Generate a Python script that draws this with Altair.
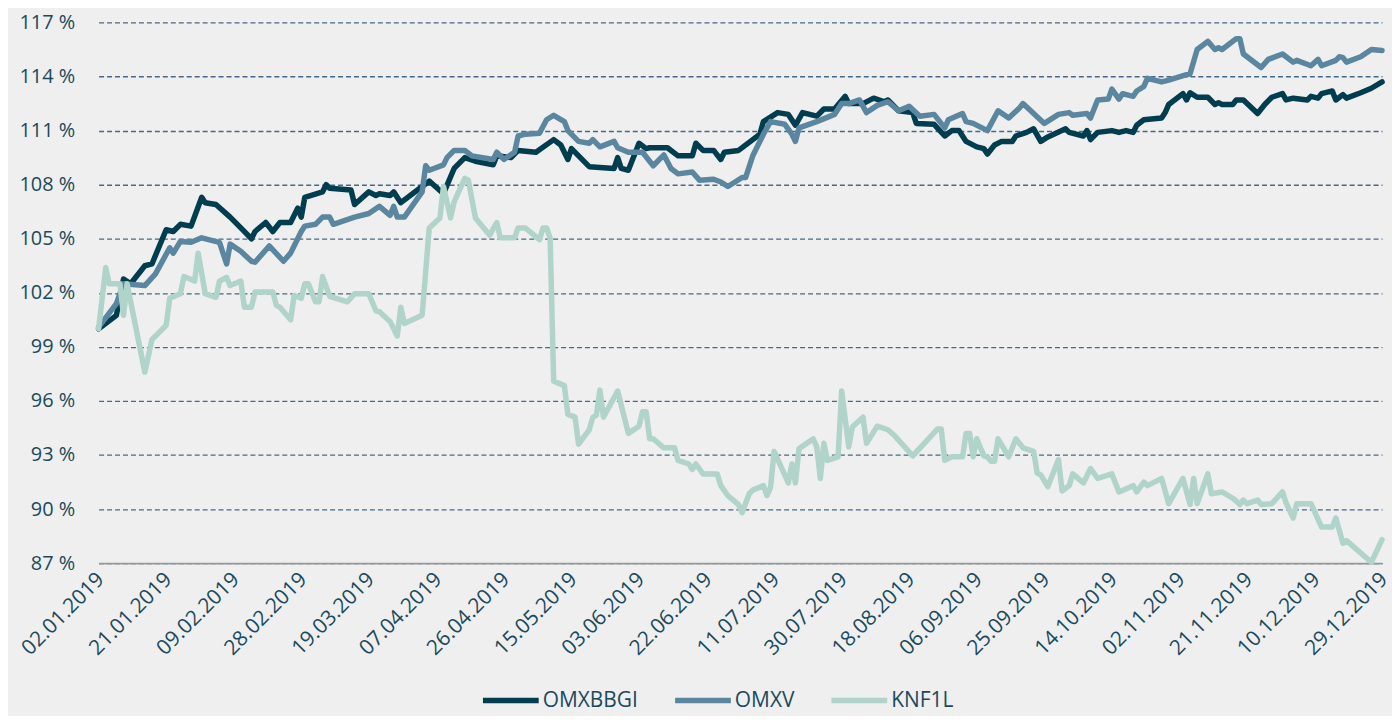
import altair as alt
import pandas as pd

# Day offsets from 02.01.2019 and index values (%)
omxbbgi_days = [0, 5, 7, 9, 13, 15, 19, 21, 23, 26, 29, 30, 33, 37, 40, 43, 44, 47, 49, 51, 54, 56, 57, 58,
                63, 64, 65, 71, 72, 76, 78, 79, 82, 83, 85, 91, 93, 97, 100, 103, 106, 111, 112, 116, 118,
                123, 128, 130, 132, 133, 138, 145, 146, 147, 149, 152, 154, 155, 160, 163, 167, 168, 170,
                173, 175, 176, 180, 184, 186, 187, 191, 194, 196, 198, 202, 204, 207, 210, 211, 215, 218,
                221, 222, 225, 229, 230, 235, 238, 240, 242, 244, 247, 249, 250, 252, 254, 257, 258, 261,
                263, 265, 267, 272, 273, 277, 278, 279, 281, 285, 287, 289, 291, 292, 294, 299, 300, 301,
                305, 306, 307, 309, 312, 314, 315, 316, 319, 320, 322, 326, 328, 330, 333, 334, 336, 340,
                341, 343, 344, 347, 348, 350, 351, 355, 358, 361]
omxbbgi_vals = [100.0, 100.75, 102.77, 102.5, 103.5, 103.6, 105.5, 105.4, 105.8, 105.7, 107.3, 107.0, 106.9,
                106.2, 105.6, 105.0, 105.4, 105.9, 105.4, 105.9, 105.9, 106.7, 106.2, 107.3, 107.6, 108.0,
                107.8, 107.7, 106.9, 107.6, 107.4, 107.5, 107.4, 107.6, 107.0, 107.9, 108.2, 107.5, 108.9,
                109.5, 109.3, 109.1, 109.6, 109.5, 109.9, 109.8, 110.5, 110.2, 109.4, 110.0, 109.0, 108.9,
                109.5, 108.9, 108.8, 110.3, 110.0, 110.05, 110.05, 109.6, 109.6, 110.3, 109.9, 109.9, 109.4,
                109.8, 109.9, 110.5, 110.8, 111.5, 112.0, 111.9, 111.3, 112.0, 111.8, 112.2, 112.2, 112.9,
                112.5, 112.5, 112.8, 112.6, 112.7, 112.1, 112.0, 111.4, 111.35, 110.7, 111.0, 111.0, 110.4,
                110.1, 110.0, 109.7, 110.2, 110.4, 110.4, 110.7, 110.9, 111.1, 110.4, 110.65, 111.1, 110.9,
                110.7, 111.0, 110.5, 110.9, 111.0, 110.9, 111.0, 110.9, 111.3, 111.6, 111.7, 112.0, 112.45,
                113.05, 112.7, 113.1, 112.85, 112.85, 112.45, 112.55, 112.45, 112.45, 112.7, 112.7, 111.95,
                112.45, 112.85, 113.05, 112.7, 112.8, 112.7, 112.9, 112.8, 113.05, 113.2, 112.7, 113.0,
                112.8, 113.1, 113.35, 113.7]

omxv_days = [0, 5, 7, 13, 16, 20, 21, 23, 26, 29, 34, 36, 37, 40, 43, 44, 48, 52, 54, 57, 58, 61, 63, 65,
             66, 72, 76, 79, 82, 83, 84, 86, 91, 92, 93, 97, 98, 100, 103, 105, 111, 112, 114, 117, 118,
             120, 124, 126, 128, 131, 132, 135, 138, 139, 141, 145, 146, 149, 153, 156, 159, 161, 163,
             167, 169, 173, 175, 177, 181, 182, 184, 187, 189, 193, 195, 196, 197, 202, 207, 209, 211,
             214, 216, 219, 222, 225, 228, 231, 235, 238, 239, 243, 244, 246, 250, 253, 256, 259, 260,
             266, 270, 273, 274, 278, 279, 281, 284, 285, 287, 288, 291, 292, 294, 295, 299, 301, 306,
             307, 309, 312, 314, 315, 316, 320, 321, 322, 327, 329, 333, 336, 337, 341, 343, 344, 348,
             349, 350, 351, 355, 358, 361]
omxv_vals = [100.1, 101.4, 102.5, 102.4, 103.05, 104.5, 104.2, 104.85, 104.8, 105.05, 104.8, 103.6, 104.7,
             104.3, 103.75, 103.7, 104.6, 103.75, 104.2, 105.4, 105.7, 105.8, 106.2, 106.2, 105.8, 106.2,
             106.4, 106.8, 106.3, 106.8, 106.2, 106.2, 107.6, 109.05, 108.8, 109.1, 109.5, 109.9, 109.9,
             109.6, 109.4, 109.8, 109.4, 109.8, 110.7, 110.8, 110.85, 111.6, 111.85, 111.5, 111.0, 110.4,
             110.3, 110.5, 110.1, 110.4, 110.05, 109.8, 109.8, 109.05, 109.65, 108.9, 108.6, 108.7, 108.25,
             108.3, 108.15, 107.9, 108.4, 108.4, 109.6, 110.8, 111.5, 111.35, 110.8, 110.4, 111.15, 111.5,
             111.9, 112.5, 112.5, 112.7, 112.0, 112.4, 112.6, 112.1, 112.35, 111.8, 111.9, 111.15, 111.6,
             111.95, 111.5, 111.4, 111.0, 112.1, 111.7, 112.25, 112.5, 111.4, 111.9, 112.0, 111.85, 111.95,
             111.7, 112.7, 112.75, 113.3, 112.75, 113.05, 112.9, 113.2, 113.45, 113.9, 113.7, 113.8, 114.1,
             114.15, 115.5, 115.95, 115.5, 115.6, 115.5, 116.1, 116.1, 115.25, 114.5, 114.95, 115.25, 114.8,
             114.9, 114.6, 114.95, 114.6, 114.9, 115.1, 115.05, 114.8, 115.1, 115.5, 115.45]

knf1l_days = [0, 2, 3, 6, 7, 8, 13, 15, 19, 20, 23, 24, 27, 28, 30, 33, 34, 36, 37, 40, 41, 43, 44, 49, 50,
              51, 54, 55, 57, 58, 59, 61, 62, 63, 65, 70, 72, 76, 78, 79, 82, 84, 85, 86, 91, 93, 96, 97,
              99, 100, 103, 104, 106, 110, 112, 113, 117, 118, 120, 124, 125, 126, 127, 128, 131, 132, 134,
              135, 138, 139, 140, 141, 142, 146, 149, 152, 153, 154, 155, 156, 159, 162, 163, 166, 167, 168,
              170, 174, 175, 177, 180, 181, 183, 184, 187, 188, 189, 190, 194, 195, 196, 197, 201, 202, 203,
              204, 205, 208, 209, 211, 212, 215, 216, 219, 222, 224, 229, 236, 237, 238, 240, 243, 244, 245,
              246, 247, 249, 250, 251, 252, 253, 256, 258, 260, 263, 264, 265, 267, 270, 271, 273, 274, 277,
              279, 281, 285, 287, 291, 292, 294, 295, 299, 301, 305, 307, 308, 309, 312, 313, 316, 319, 320,
              321, 322, 323, 326, 327, 330, 333, 334, 336, 337, 341, 344, 347, 348, 350, 351, 358, 361]
knf1l_vals = [100.0, 103.4, 102.5, 102.5, 100.75, 102.5, 97.6, 99.4, 100.2, 101.7, 101.95, 102.9, 102.65,
              104.2, 101.95, 101.75, 102.65, 102.85, 102.4, 102.65, 101.2, 101.2, 102.05, 102.05, 101.3,
              101.2, 100.5, 101.85, 101.7, 102.5, 102.5, 101.5, 101.5, 102.9, 101.8, 101.5, 101.95, 101.95,
              101.0, 100.95, 100.4, 99.6, 101.2, 100.3, 100.75, 105.6, 106.15, 107.9, 106.15, 107.05,
              108.35, 108.25, 106.15, 105.2, 105.9, 105.05, 105.05, 105.6, 105.6, 104.95, 105.6, 105.6,
              105.05, 97.1, 96.85, 95.25, 95.1, 93.6, 94.4, 95.1, 95.2, 96.6, 95.1, 96.55, 94.2, 94.6, 95.4,
              95.4, 93.9, 93.9, 93.4, 93.4, 92.7, 92.5, 92.2, 92.5, 91.95, 91.95, 91.3, 90.75, 90.25, 89.8,
              90.85, 91.05, 91.3, 90.75, 91.2, 93.2, 91.45, 92.5, 91.45, 93.35, 93.9, 93.45, 91.7, 93.65,
              92.7, 92.9, 96.55, 93.45, 94.55, 95.1, 93.65, 94.6, 94.4, 94.05, 92.95, 94.45, 94.45, 92.7,
              92.9, 92.9, 94.2, 94.2, 92.9, 93.9, 92.95, 92.9, 92.65, 92.65, 93.9, 92.9, 93.9, 93.4, 93.2,
              92.0, 91.9, 91.25, 92.75, 91.0, 91.3, 91.95, 91.45, 92.25, 91.7, 91.95, 90.95, 91.3, 90.95,
              91.5, 91.3, 91.7, 90.3, 91.7, 90.25, 91.7, 90.3, 91.95, 90.85, 90.95, 90.6, 90.45, 90.25,
              90.5, 90.3, 90.5, 90.25, 90.3, 90.95, 90.35, 89.5, 90.3, 90.3, 89.0, 89.0, 89.5, 88.1, 88.25,
              87.05, 88.3]

series_names = ["OMXBBGI", "OMXV", "KNF1L"]
series_colors = ["#003d4f", "#5b86a0", "#b0d3ca"]

tick_days = list(range(0, 362, 19))

base = pd.Timestamp("2019-01-02")
rows = []
for name, days, vals in [("OMXBBGI", omxbbgi_days, omxbbgi_vals),
                         ("OMXV", omxv_days, omxv_vals),
                         ("KNF1L", knf1l_days, knf1l_vals)]:
    for d, v in zip(days, vals):
        rows.append({"date": (base + pd.Timedelta(days=d)).strftime("%Y-%m-%d"),
                     "value": v, "series": name})
df = pd.DataFrame(rows)

tick_values = [alt.DateTime(year=(base + pd.Timedelta(days=d)).year,
                            month=(base + pd.Timedelta(days=d)).month,
                            date=(base + pd.Timedelta(days=d)).day, utc=True) for d in tick_days]

txt = "#1b4a5c"

chart = alt.Chart(df).mark_line(strokeWidth=5.5, strokeJoin="round", strokeCap="round").encode(
    x=alt.X("date:T",
            scale=alt.Scale(type="utc",
                            domain=[alt.DateTime(year=2019, month=1, date=2, utc=True),
                                    alt.DateTime(year=2019, month=12, date=29, utc=True)]),
            axis=alt.Axis(title=None, values=tick_values, labelExpr="utcFormat(datum.value, '%d.%m.%Y')",
                          labelAngle=-45, labelAlign="right", labelBaseline="middle", labelPadding=13,
                          labelOffset=2,
                          ticks=False, grid=False, domainColor="#999999", domainWidth=2,
                          labelFontSize=21, labelColor=txt, labelFont="Open Sans",
                          labelOverlap=False, labelBound=False, labelFlush=False)),
    y=alt.Y("value:Q",
            scale=alt.Scale(domain=[87, 117], nice=False, zero=False),
            axis=alt.Axis(title=None, values=list(range(87, 118, 3)), labelExpr="datum.value + ' %'",
                          ticks=False, domain=False, grid=True, gridColor="#46688a",
                          gridDash=[5, 3], gridWidth=1.3, labelPadding=24,
                          labelFontSize=20, labelColor=txt, labelFont="Open Sans")),
    color=alt.Color("series:N",
                    scale=alt.Scale(domain=series_names, range=series_colors),
                    sort=series_names,
                    legend=alt.Legend(title=None, orient="none", direction="horizontal",
                                      legendX=383, legendY=650, symbolType="stroke",
                                      symbolSize=3136, symbolStrokeWidth=5.5, labelFontSize=21,
                                      labelColor=txt, labelFont="Open Sans", labelOffset=1,
                                      columnPadding=26)),
).properties(
    width=1289, height=543,
    autosize=alt.AutoSizeParams(type="none"),
    padding={"left": 91, "top": 13, "right": 10, "bottom": 152},
    background="#efefef",
).configure_view(stroke=None)

chart.save("out.html", embed_options={"renderer": "svg", "actions": False})
